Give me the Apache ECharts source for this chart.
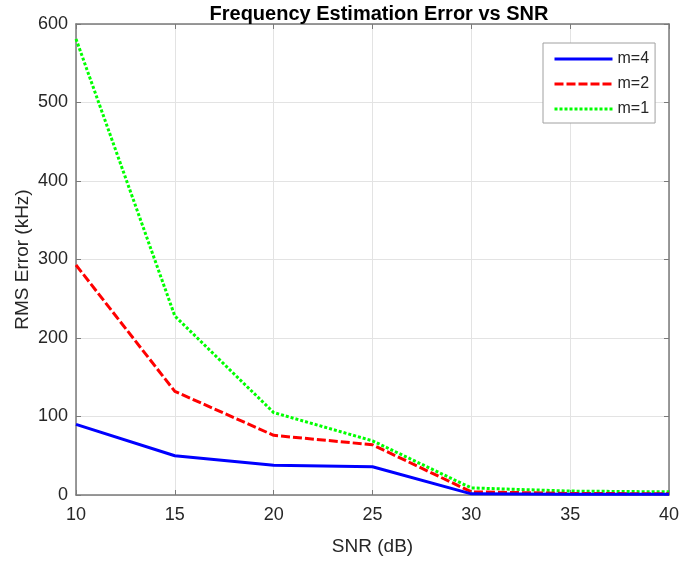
<!DOCTYPE html>
<html>
<head>
<meta charset="utf-8">
<script src="https://cdn.jsdelivr.net/npm/echarts@6/dist/echarts.min.js"></script>
<style>
  html, body { margin: 0; padding: 0; background: #fff; }
  #chart { width: 682px; height: 561px; }
</style>
</head>
<body>
<div id="chart"></div>
<script>
// SNR sweep (dB)
const snr = [10, 15, 20, 25, 30, 35, 40];
// RMS frequency error (kHz) per oversampling factor m
const errM4 = [90, 50, 38, 36, 1.5, 1, 1];
const errM2 = [293, 132, 76, 64, 4, 2, 1.5];
const errM1 = [581, 228, 105, 69, 9, 5, 4];

const FONT = '"Liberation Sans", Arial, Helvetica, sans-serif';
const AXIS_COLOR = '#7a7a7a';
const TEXT_COLOR = '#262626';

function pairs(ys) { return snr.map((x, i) => [x, ys[i]]); }

const chart = echarts.init(document.getElementById('chart'), null, { renderer: 'canvas' });

const baseAxisLine = { show: true, onZero: false, lineStyle: { color: AXIS_COLOR, width: 1.5 } };
const inTicks = { show: true, inside: true, length: 5, lineStyle: { color: AXIS_COLOR, width: 1 } };

chart.setOption({
  backgroundColor: '#ffffff',
  animation: false,
  textStyle: { fontFamily: FONT },
  title: {
    text: 'Frequency Estimation Error vs SNR',
    left: 374, textAlign: 'center', top: -1,
    textStyle: { fontFamily: FONT, fontWeight: 'bold', fontSize: 20, color: '#000' }
  },
  grid: { left: 76, right: 9, top: 24, bottom: 66 },
  legend: {
    orient: 'vertical', left: 543, top: 43,
    backgroundColor: '#fff', borderColor: '#a0a0a0', borderWidth: 1,
    padding: [8, 6, 6, 10],
    itemWidth: 58, itemHeight: 14, itemGap: 9,
    itemStyle: { opacity: 0 },
    lineStyle: { width: 3 },
    textStyle: { fontFamily: FONT, fontSize: 16, color: TEXT_COLOR },
    data: ['m=4', 'm=2', 'm=1']
  },
  xAxis: [{
    type: 'value', min: 10, max: 40, interval: 5,
    name: 'SNR (dB)', nameLocation: 'middle', nameGap: 42,
    nameTextStyle: { fontFamily: FONT, fontSize: 19, color: TEXT_COLOR },
    axisLine: baseAxisLine, axisTick: inTicks,
    axisLabel: { fontFamily: FONT, fontSize: 18, color: TEXT_COLOR, margin: 11 },
    splitLine: { show: true, lineStyle: { color: '#e3e3e3', width: 1 } }
  }, {
    type: 'value', position: 'top', min: 10, max: 40, interval: 5,
    axisLine: baseAxisLine, axisTick: inTicks,
    axisLabel: { show: false }, splitLine: { show: false }
  }],
  yAxis: [{
    type: 'value', min: 0, max: 600, interval: 100,
    name: 'RMS Error (kHz)', nameLocation: 'middle', nameGap: 44, nameRotate: 90,
    nameMoveOverlap: false,
    nameTextStyle: { fontFamily: FONT, fontSize: 19, color: TEXT_COLOR },
    axisLine: baseAxisLine, axisTick: inTicks,
    axisLabel: { fontFamily: FONT, fontSize: 18, color: TEXT_COLOR, margin: 8 },
    splitLine: { show: true, lineStyle: { color: '#e3e3e3', width: 1 } }
  }, {
    type: 'value', position: 'right', min: 0, max: 600, interval: 100,
    axisLine: baseAxisLine, axisTick: inTicks,
    axisLabel: { show: false }, splitLine: { show: false }
  }],
  series: [{
    name: 'm=4', type: 'line', data: pairs(errM4),
    symbol: 'none', z: 4,
    lineStyle: { color: '#0000ff', width: 3 },
    itemStyle: { color: '#0000ff' }
  }, {
    name: 'm=2', type: 'line', data: pairs(errM2),
    symbol: 'none', z: 3,
    lineStyle: { color: '#ff0000', width: 3, type: [9, 3] },
    itemStyle: { color: '#ff0000' }
  }, {
    name: 'm=1', type: 'line', data: pairs(errM1),
    symbol: 'none', z: 2,
    lineStyle: { color: '#00ff00', width: 3, type: [3, 2] },
    itemStyle: { color: '#00ff00' }
  }]
});
</script>
</body>
</html>
